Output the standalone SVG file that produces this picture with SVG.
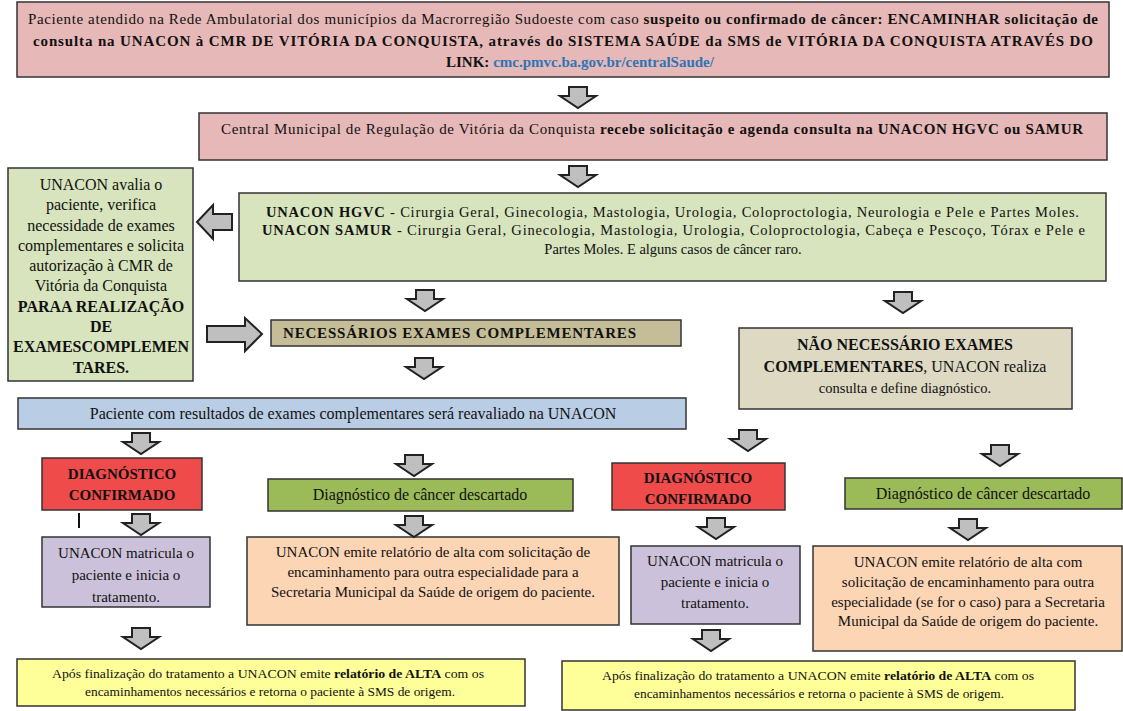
<svg xmlns="http://www.w3.org/2000/svg" width="1123" height="711" viewBox="0 0 1123 711" font-family="'Liberation Serif', 'Times New Roman', serif">
<style>
text{font-family:'Liberation Serif','Times New Roman',serif;fill:#111;}
.b{font-weight:bold;}
.box{stroke:#333;stroke-width:1.5;}
.arr{fill:#bfbfbf;stroke:#222;stroke-width:2;stroke-linejoin:miter;}
.f14{font-size:14.5px;}
.f15{font-size:15px;}
.f16{font-size:16px;}
.f12{font-size:12.5px;}
.mid{text-anchor:middle;}
.link{fill:#2e75b6;font-weight:bold;}
</style>
<defs>
<path id="da" d="M-9,0 H9 V9 H18 L0,21 L-18,9 H-9 Z"/>
</defs>
<rect width="1123" height="711" fill="#fff"/>

<g id="n1">
<rect class="box" x="17" y="2" width="1092" height="75" fill="#e6b8b7"/>
<text class="f15" x="28" y="24" textLength="1070" lengthAdjust="spacing">Paciente atendido na Rede Ambulatorial dos municípios da Macrorregião Sudoeste com caso <tspan class="b">suspeito ou confirmado de câncer: ENCAMINHAR solicitação de</tspan></text>
<text class="f15 b" x="33" y="46" textLength="1060" lengthAdjust="spacing">consulta na UNACON à CMR DE VITÓRIA DA CONQUISTA, através do SISTEMA SAÚDE da SMS de VITÓRIA DA CONQUISTA ATRAVÉS DO</text>
<text class="f15 b mid" x="580" y="67">LINK: <tspan class="link">cmc.pmvc.ba.gov.br/centralSaude/</tspan></text>
</g>

<g id="n2">
<rect class="box" x="199" y="113" width="908" height="47" fill="#e6b8b7"/>
<text class="f15" x="221" y="134" textLength="862" lengthAdjust="spacing">Central Municipal de Regulação  de Vitória da Conquista <tspan class="b">recebe solicitação e agenda consulta na UNACON HGVC ou SAMUR</tspan></text>
</g>

<g id="n3">
<rect class="box" x="239" y="193" width="867" height="88" fill="#d7e4bd"/>
<text class="f14" x="266" y="217" textLength="813" lengthAdjust="spacing"><tspan class="b">UNACON HGVC</tspan> - Cirurgia Geral, Ginecologia, Mastologia,  Urologia, Coloproctologia, Neurologia e Pele e Partes Moles.</text>
<text class="f14" x="262" y="235" textLength="823" lengthAdjust="spacing"><tspan class="b">UNACON SAMUR</tspan> - Cirurgia Geral, Ginecologia, Mastologia, Urologia, Coloproctologia, Cabeça e Pescoço, Tórax e Pele e</text>
<text class="f14 mid" x="673" y="254">Partes Moles. E alguns casos de câncer raro.</text>
</g>

<g id="n4">
<rect class="box" x="8" y="168" width="185" height="213" fill="#d7e4bd"/>
<text class="f16 mid" x="101" y="190">UNACON avalia o</text>
<text class="f16 mid" x="101" y="210">paciente, verifica</text>
<text class="f16 mid" x="101" y="231">necessidade de exames</text>
<text class="f16 mid" x="101" y="251">complementares e solicita</text>
<text class="f16 mid" x="101" y="271">autorização à CMR de</text>
<text class="f16 mid" x="101" y="291">Vitória da Conquista</text>
<text class="f16 mid b" x="101" y="312">PARAA REALIZAÇÃO</text>
<text class="f16 mid b" x="101" y="332">DE</text>
<text class="f16 mid b" x="101" y="352">EXAMESCOMPLEMEN</text>
<text class="f16 mid b" x="101" y="373">TARES.</text>
</g>

<g id="n5">
<rect class="box" x="271" y="320" width="410" height="26" fill="#c4bd97"/>
<text class="f15 b" x="283" y="338" textLength="353" lengthAdjust="spacing">NECESSÁRIOS EXAMES COMPLEMENTARES</text>
</g>

<g id="n6">
<rect class="box" x="739" y="328" width="333" height="81" fill="#ddd9c3"/>
<text class="f16 mid b" x="905" y="350">NÃO NECESSÁRIO EXAMES</text>
<text class="f16 mid" x="905" y="372"><tspan class="b">COMPLEMENTARES</tspan>, UNACON realiza</text>
<text class="f14 mid" x="905" y="393">consulta e define diagnóstico.</text>
</g>

<g id="n7">
<rect class="box" x="18" y="398" width="668" height="31" fill="#b9cde5"/>
<text class="f16 mid" x="353" y="419">Paciente com resultados de exames complementares será reavaliado na UNACON</text>
</g>

<g id="n8">
<rect class="box" x="42" y="458" width="160" height="52" fill="#ef4b4b"/>
<text class="f15 mid b" x="122" y="479">DIAGNÓSTICO</text>
<text class="f15 mid b" x="122" y="500">CONFIRMADO</text>
</g>

<g id="n9">
<rect class="box" x="268" y="479" width="305" height="32" fill="#9bbb59"/>
<text class="f16 mid" x="420" y="500">Diagnóstico de câncer descartado</text>
</g>

<g id="n10">
<rect class="box" x="42" y="537" width="168" height="70" fill="#ccc1da"/>
<text class="f15 mid" x="126" y="558">UNACON matricula o</text>
<text class="f15 mid" x="126" y="580">paciente e inicia o</text>
<text class="f15 mid" x="126" y="602">tratamento.</text>
</g>

<g id="n11">
<rect class="box" x="247" y="537" width="372" height="88" fill="#fcd5b5"/>
<text class="f15 mid" x="433" y="557">UNACON emite relatório de alta com solicitação de</text>
<text class="f15 mid" x="433" y="577">encaminhamento para outra especialidade para a</text>
<text class="f15 mid" x="433" y="597">Secretaria Municipal da Saúde de origem do paciente.</text>
</g>

<g id="n12">
<rect class="box" x="612" y="463" width="173" height="47" fill="#ef4b4b"/>
<text class="f15 mid b" x="698" y="483">DIAGNÓSTICO</text>
<text class="f15 mid b" x="698" y="504">CONFIRMADO</text>
</g>

<g id="n13">
<rect class="box" x="845" y="478" width="277" height="31" fill="#9bbb59"/>
<text class="f16 mid" x="983" y="499">Diagnóstico de câncer descartado</text>
</g>

<g id="n14">
<rect class="box" x="631" y="546" width="169" height="78" fill="#ccc1da"/>
<text class="f15 mid" x="715" y="566">UNACON matricula o</text>
<text class="f15 mid" x="715" y="587">paciente e inicia o</text>
<text class="f15 mid" x="715" y="608">tratamento.</text>
</g>

<g id="n15">
<rect class="box" x="813" y="546" width="309" height="105" fill="#fcd5b5"/>
<text class="f15 mid" x="968" y="567">UNACON emite relatório de alta com</text>
<text class="f15 mid" x="968" y="587">solicitação de encaminhamento para outra</text>
<text class="f15 mid" x="968" y="607">especialidade (se for o caso) para a Secretaria</text>
<text class="f15 mid" x="968" y="626">Municipal da Saúde de origem do paciente.</text>
</g>

<g id="n16">
<rect class="box" x="17" y="659" width="508" height="47" fill="#ffff99"/>
<text class="f12" x="52" y="678" textLength="432" lengthAdjust="spacingAndGlyphs">Após finalização do tratamento a UNACON emite <tspan class="b">relatório de ALTA</tspan> com os</text>
<text class="f12" x="85" y="696" textLength="370" lengthAdjust="spacingAndGlyphs">encaminhamentos necessários e retorna o paciente à SMS de origem.</text>
</g>

<g id="n17">
<rect class="box" x="562" y="661" width="513" height="49" fill="#ffff99"/>
<text class="f12" x="602" y="680" textLength="432" lengthAdjust="spacingAndGlyphs">Após finalização do tratamento a UNACON emite <tspan class="b">relatório de ALTA</tspan> com os</text>
<text class="f12" x="634" y="698" textLength="370" lengthAdjust="spacingAndGlyphs">encaminhamentos necessários e retorna o paciente à SMS de origem.</text>
</g>

<g id="connectors">
<use href="#da" class="arr" x="578" y="87"/>
<use href="#da" class="arr" x="578" y="166"/>
<use href="#da" class="arr" x="425" y="290"/>
<use href="#da" class="arr" x="903" y="292"/>
<use href="#da" class="arr" x="424" y="358"/>
<use href="#da" class="arr" x="141" y="433"/>
<use href="#da" class="arr" x="414" y="455"/>
<use href="#da" class="arr" x="748" y="430"/>
<use href="#da" class="arr" x="1000" y="445"/>
<use href="#da" class="arr" x="141" y="514"/>
<use href="#da" class="arr" x="414" y="516"/>
<use href="#da" class="arr" x="716" y="518"/>
<use href="#da" class="arr" x="968" y="519"/>
<use href="#da" class="arr" x="141" y="628"/>
<use href="#da" class="arr" x="711" y="630"/>
<path class="arr" d="M197,222 L213,205 V214 H232 V230 H213 V239 Z"/>
<path class="arr" d="M207,326 H245 V318 L262,334 L245,351 V342 H207 Z"/>
<line x1="79" y1="513" x2="79" y2="528" stroke="#111" stroke-width="2"/>
</g>
</svg>
